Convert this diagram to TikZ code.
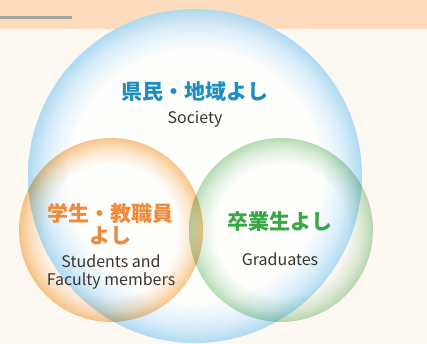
\documentclass[tikz,border=0pt]{standalone}
\usepackage{fontspec}
\newfontfamily\jp{Noto Sans CJK JP}
\definecolor{bgc}{HTML}{FDF8F2}
\definecolor{bandc}{HTML}{FCDCBD}
\definecolor{linec}{HTML}{A3A3A3}
\definecolor{blueA}{HTML}{A8D8F4}
\definecolor{orangeA}{HTML}{F9C68A}
\definecolor{greenA}{HTML}{B6DCB6}
\definecolor{blueT}{HTML}{1E8DC0}
\definecolor{orangeT}{HTML}{EF8A3A}
\definecolor{greenT}{HTML}{38A846}
\definecolor{textc}{HTML}{3A3330}
\pgfdeclareradialshading{bluering}{\pgfpointorigin}{color(0bp)=(white); color(19bp)=(white); color(22.5bp)=(blueA!45!white); color(25bp)=(blueA); color(50bp)=(blueA)}
\pgfdeclareradialshading{orangering}{\pgfpointorigin}{color(0bp)=(white); color(18bp)=(white); color(22bp)=(orangeA!45!white); color(25bp)=(orangeA); color(50bp)=(orangeA)}
\pgfdeclareradialshading{greenring}{\pgfpointorigin}{color(0bp)=(white); color(18bp)=(white); color(22bp)=(greenA!45!white); color(25bp)=(greenA); color(50bp)=(greenA)}
\tikzset{
  jptext/.style={font=\jp\bfseries\fontsize{21}{22}\selectfont, inner sep=0pt, align=center},
  entext/.style={font=\jp\fontsize{16}{18}\selectfont, text=textc, inner sep=0pt, anchor=base, align=center},
}
\begin{document}
\begin{tikzpicture}[x=1pt,y=-1pt]
\useasboundingbox (0,0) rectangle (427,344);
\fill[bgc] (0,0) rectangle (427,344);
\fill[bandc] (0,0) rectangle (427,29);
\draw[linec, line width=2.5pt] (0,17.3) -- (72,17.3);
\shade[shading=bluering, opacity=0.9] (195,176) circle (167);
\begin{scope}[blend mode=multiply]
\shade[shading=orangering] (111,230) circle (92);
\shade[shading=greenring] (281,230) circle (92);
\end{scope}
\node[jptext, text=blueT] (socjp) at (195,92) {県民・地域よし};
\node[entext] (socen) at (195,123.3) {Society};
\node[jptext, text=orangeT] (stujp) at (110,224) {学生・教職員\\よし};
\node[entext] (stuen) at (111,267) {Students and};
\node[entext] (facen) at (111,285) {Faculty members};
\node[jptext, text=greenT] (grajp) at (280,222) {卒業生よし};
\node[entext] (graen) at (280,265) {Graduates};
\end{tikzpicture}
\end{document}
